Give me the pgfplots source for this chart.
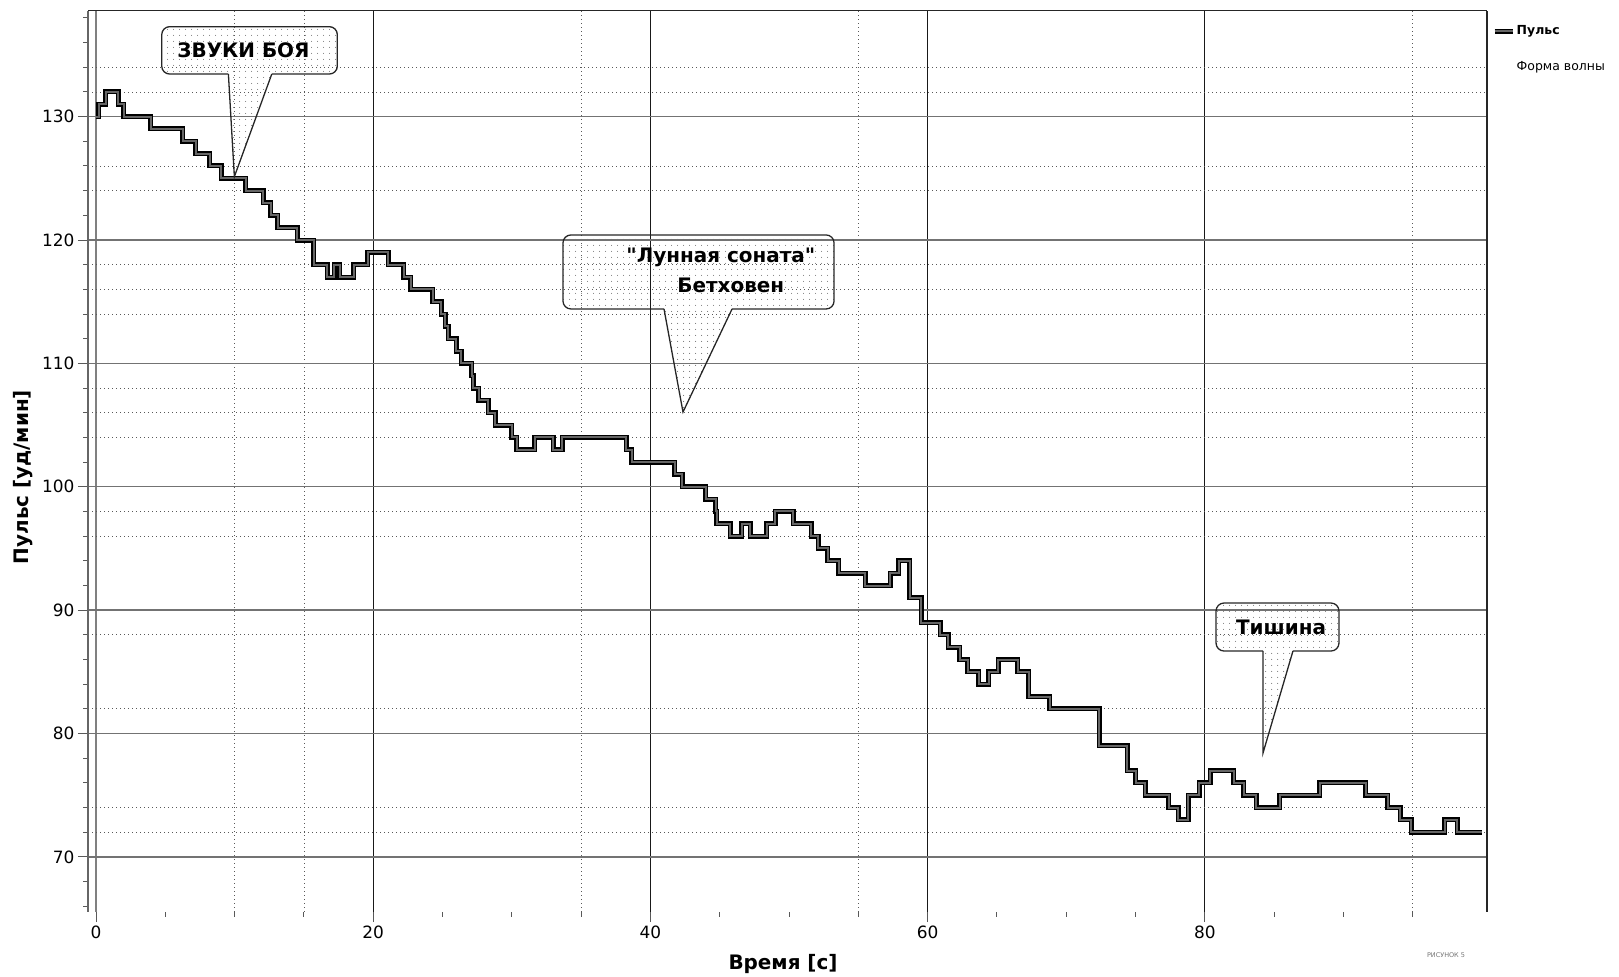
\documentclass[border=0pt]{standalone}
\usepackage{fontspec}
\setmainfont{DejaVu Sans}[Ligatures=TeXOff]
\usepackage{pgfplots}
\pgfplotsset{compat=1.18}
\usetikzlibrary{patterns.meta}

\pgfplotsset{
  geom/.style={at={(88bp,65bp)}, anchor=south west, scale only axis,
    width=1399bp, height=901bp,
    xmin=-0.58, xmax=100.36, ymin=65.54, ymax=138.56,
    axis line style={draw=none}},
  dotgrid/.style={black!65, line width=0.8bp, dash pattern=on 1bp off 3bp},
}

% speech bubble: left, right, top, bottom, base1, base2, tip x, tip y
\newcommand\bubble[8]{%
  \fill[pattern={Dots[distance=6bp,radius=0.6bp]}, pattern color=black!55, rounded corners=8bp]
    (axis cs:#1,#4) rectangle (axis cs:#2,#3);
  \fill[pattern={Dots[distance=6bp,radius=0.6bp]}, pattern color=black!55]
    (axis cs:#5,#4) -- (axis cs:#7,#8) -- (axis cs:#6,#4) -- cycle;
  \draw[black!85, line width=1.3bp, rounded corners=8bp]
    (axis cs:#5,#4) -- (axis cs:#1,#4) -- (axis cs:#1,#3) -- (axis cs:#2,#3)
    -- (axis cs:#2,#4) -- (axis cs:#6,#4);
  \draw[black!85, line width=1.3bp] (axis cs:#6,#4) -- (axis cs:#7,#8) -- (axis cs:#5,#4);
}

\begin{document}
\begin{tikzpicture}
\useasboundingbox (0,0) rectangle (1619bp,977bp);

% vertical grid lines
\begin{axis}[geom,
  xtick={20,40,60,80}, minor xtick={10,15,35,55,95},
  ytick=\empty, xticklabels={},
  xmajorgrids, xminorgrids,
  major grid style={black!90, line width=0.9bp},
  minor grid style={dotgrid},
  tick style={draw=none},
  extra x ticks={0}, extra x tick labels={},
  extra x tick style={grid=major, major grid style={black!50, line width=1.6bp}},
]
\end{axis}

\begin{axis}[geom, clip=false,
  tick pos=left, tick align=outside,
  major tick length=10bp, minor tick length=4.5bp,
  tick style={black!65, line width=1bp},
  xtick={0,20,40,60,80}, minor xtick={5,10,...,95},
  ytick={70,80,...,130},
  minor ytick={72,74,82,88,96,98,104,106,108,114,116,118,124,126,132,134},
  extra y ticks={66,68,76,78,84,86,92,94,102,112,122,128,136,138},
  extra y tick labels={},
  extra y tick style={grid=none, major tick length=4.5bp},
  ymajorgrids, yminorgrids,
  major grid style={black!55, line width=1.4bp},
  minor grid style={dotgrid},
  tick label style={font=\fontsize{17}{20}\selectfont},
  /pgf/number format/assume math mode=true,
  xlabel={\bfseries Время [с]},
  ylabel={\bfseries Пульс [уд/мин]},
  label style={font=\fontsize{20}{24}\selectfont},
  xlabel style={at={(axis description cs:0.4968,-0.0577)}, anchor=center},
  ylabel style={at={(axis description cs:-0.0465,0.4828)}, anchor=center},
  legend style={at={(axis description cs:1.0036,0.958)}, anchor=west,
    draw=none, fill=none, inner sep=0pt, row sep=22bp,
    font=\fontsize{12.5}{15}\selectfont, nodes={inner sep=1.5bp}},
  legend cell align=left,
  legend image code/.code={\draw[#1] (0bp,0bp) -- (18bp,0bp);},
]
\addplot[const plot, draw=black, line width=1.5bp, double=black!60,
  double distance=2bp] coordinates {
  (0,130) (0.2,131) (0.7,132) (1.6,131) (2.0,130) (3.95,129) (6.25,128)
  (7.2,127) (8.2,126) (9.05,125) (10.8,124) (12.05,123) (12.6,122)
  (13.1,121) (14.5,120) (15.7,118) (16.7,117) (17.2,118) (17.6,117)
  (18.6,118) (19.6,119) (21.1,118) (22.2,117) (22.7,116) (24.3,115)
  (24.9,114) (25.2,113) (25.4,112) (26.0,111) (26.35,110) (27.1,109)
  (27.2,108) (27.6,107) (28.3,106) (28.8,105) (30.0,104) (30.35,103)
  (31.65,104) (33.0,103) (33.65,104) (38.25,103) (38.65,102) (41.75,101)
  (42.3,100) (44.0,99) (44.7,98) (44.8,97) (45.75,96) (46.6,97) (47.2,96)
  (48.4,97) (49.0,98) (50.3,97) (51.6,96) (52.1,95) (52.8,94) (53.6,93)
  (55.5,92) (57.3,93) (57.9,94) (58.7,91) (59.55,89) (60.9,88) (61.5,87)
  (62.3,86) (62.9,85) (63.7,84) (64.4,85) (65.1,86) (66.5,85) (67.3,83)
  (68.8,82) (72.4,79) (74.4,77) (75.0,76) (75.7,75) (77.4,74) (78.1,73)
  (78.8,75) (79.6,76) (80.4,77) (82.1,76) (82.8,75) (83.7,74) (85.4,75)
  (88.3,76) (91.6,75) (93.2,74) (94.1,73) (94.9,72) (97.3,73) (98.2,72)
  (100,72)
};
\addlegendentry{\bfseries Пульс}
\addlegendimage{empty legend}
\addlegendentry{Форма волны}

% frame (no bottom line)
\draw[black!85, line width=1bp] (rel axis cs:0,1) -- (rel axis cs:1,1);
\draw[black!60, line width=1.5bp] (rel axis cs:0,0) -- (rel axis cs:0,1);
\draw[black!85, line width=1.3bp] (rel axis cs:1,0) -- (rel axis cs:1,1);

% callouts
\bubble{4.74}{17.41}{137.29}{133.45}{9.55}{12.68}{9.98}{125.13}
\bubble{33.69}{53.25}{120.41}{114.41}{40.98}{45.89}{42.35}{106.06}
\bubble{80.81}{89.68}{90.58}{86.69}{84.2}{86.36}{84.2}{78.43}
\begin{scope}[every node/.style={font=\fontsize{20}{24}\selectfont\bfseries}]
\node at (axis cs:10.64,135.4) {ЗВУКИ БОЯ};
\node at (axis cs:45.08,118.62) {"Лунная соната"};
\node at (axis cs:45.8,116.35) {Бетховен};
\node at (axis cs:85.5,88.64) {Тишина};
\end{scope}

\node[font=\fontsize{6.5}{8}\selectfont, text=black!55]
  at (axis description cs:0.9707,-0.0477) {РИСУНОК 5};
\end{axis}
\end{tikzpicture}
\end{document}
